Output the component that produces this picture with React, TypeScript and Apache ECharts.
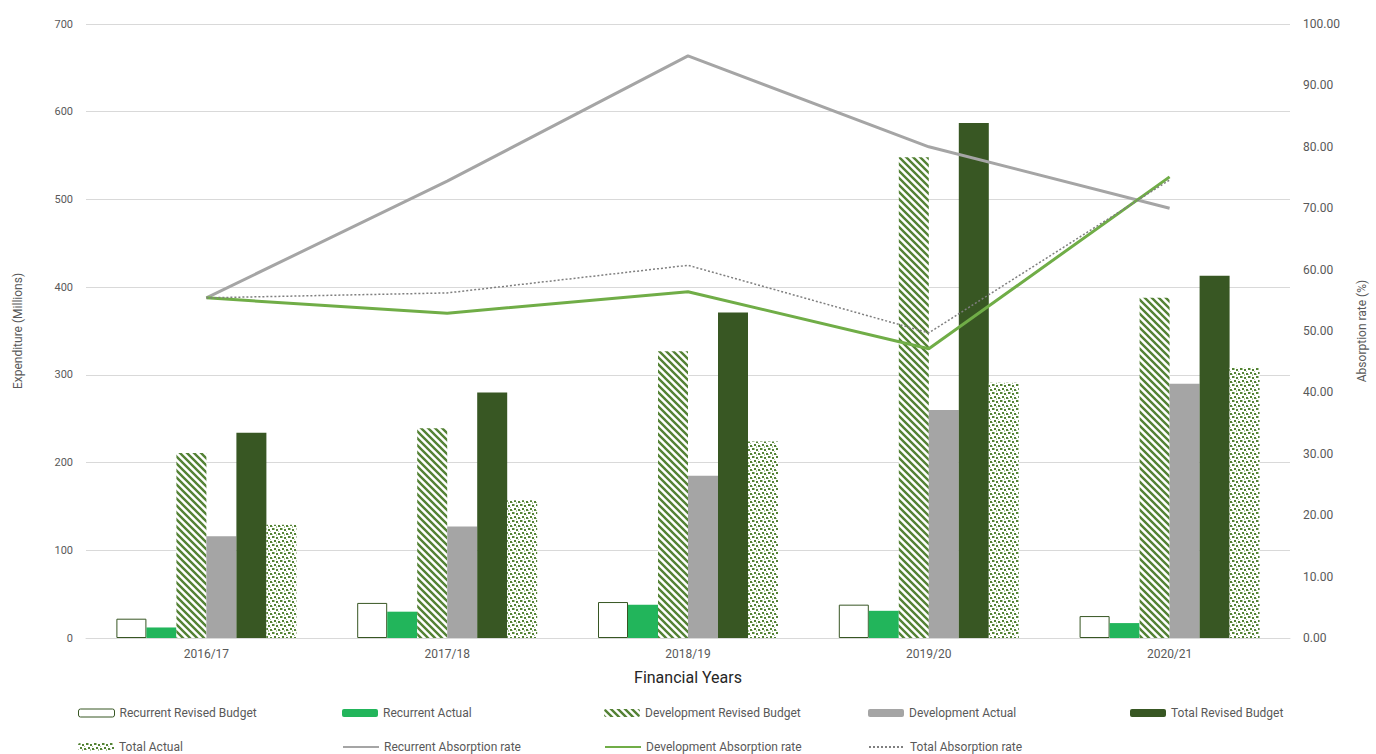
import React, { useEffect, useRef } from "react";
import * as echarts from "echarts";

const years = ["2016/17", "2017/18", "2018/19", "2019/20", "2020/21"];
const recurrentRevisedBudget = [22, 40, 41, 38, 25];
const recurrentActual = [12, 30, 38, 31, 17];
const developmentRevisedBudget = [211, 239, 327, 548, 388];
const developmentActual = [116, 127, 185, 260, 290];
const totalRevisedBudget = [234, 280, 371, 587, 413];
const totalActual = [129, 157, 224, 291, 308];
const recurrentAbsorption = [55.4, 74.4, 94.8, 80.0, 70.0];
const developmentAbsorption = [55.4, 52.9, 56.4, 47.1, 75.1];
const totalAbsorption = [55.4, 56.2, 60.7, 49.7, 74.6];
const leftTicks = { min: 0, max: 700, interval: 100 };
const rightTicks = { min: 0, max: 100, interval: 10 };

function stripeCanvas() {
  const c = document.createElement("canvas");
  c.width = 7;
  c.height = 7;
  const ctx = c.getContext("2d")!;
  ctx.fillStyle = "#ffffff";
  ctx.fillRect(0, 0, 7, 7);
  ctx.strokeStyle = "#548235";
  ctx.lineWidth = 2.4;
  ctx.beginPath();
  ctx.moveTo(-2, -2);
  ctx.lineTo(9, 9);
  ctx.moveTo(-9, -2);
  ctx.lineTo(2, 9);
  ctx.moveTo(5, -2);
  ctx.lineTo(16, 9);
  ctx.stroke();
  return c;
}

function dotCanvas() {
  const c = document.createElement("canvas");
  c.width = 8;
  c.height = 8;
  const ctx = c.getContext("2d")!;
  ctx.fillStyle = "#ffffff";
  ctx.fillRect(0, 0, 8, 8);
  ctx.fillStyle = "#a9c896";
  ctx.fillRect(2, 0, 1, 2);
  ctx.fillRect(6, 3, 1, 1);
  ctx.fillRect(0, 6, 1, 1);
  ctx.fillRect(4, 6, 1, 2);
  ctx.fillStyle = "#548235";
  ctx.fillRect(0, 0, 2, 2);
  ctx.fillRect(4, 1, 2, 2);
  ctx.fillRect(2, 4, 2, 2);
  ctx.fillRect(6, 5, 2, 2);
  return c;
}

export default function App() {
  const ref = useRef<HTMLDivElement>(null);
  useEffect(() => {
    if (!ref.current) return;
    const chart = echarts.init(ref.current, undefined, { renderer: "svg" });
    const stripe = { image: stripeCanvas(), repeat: "repeat" };
    const dots = { image: dotCanvas(), repeat: "repeat" };
    const textColor = "#595959";
    const font = "Roboto";
    const names = [
      "Recurrent Revised Budget",
      "Recurrent Actual",
      "Development Revised Budget",
      "Development Actual",
      "Total Revised Budget",
      "Total Actual",
      "Recurrent Absorption rate",
      "Development Absorption rate",
      "Total Absorption rate",
    ];
    const legendPos = [
      [78, 707],
      [342, 707],
      [604, 707],
      [868, 707],
      [1130, 707],
      [78, 741],
      [342, 741],
      [604, 741],
      [868, 741],
    ];
    const legends = names.map((n, i) => {
      const l: any = {
        data: [n],
        left: legendPos[i][0],
        top: legendPos[i][1],
        itemWidth: 36,
        itemHeight: 8,
        padding: 0,
        textStyle: { color: textColor, fontSize: 12, fontFamily: font },
      };
      if (i === 0) l.itemStyle = { borderWidth: 1 };
      if (i >= 6) l.itemStyle = { opacity: 0, color: "transparent", borderWidth: 0 };
      return l;
    });
    const barBase = { type: "bar", barWidth: 30, barGap: "0%", barCategoryGap: "26%" };
    chart.setOption({
      animation: false,
      textStyle: { fontFamily: font },
      legend: legends,
      grid: { left: 86, right: 78, top: 24, bottom: 116 },
      xAxis: {
        type: "category",
        data: years,
        axisTick: { show: false },
        axisLine: { lineStyle: { color: "#d9d9d9" } },
        axisLabel: { color: textColor, fontSize: 12, margin: 10 },
        name: "Financial Years",
        nameLocation: "middle",
        nameGap: 31,
        nameTextStyle: { color: "#262626", fontSize: 16 },
      },
      yAxis: [
        {
          type: "value",
          ...leftTicks,
          name: "Expenditure (Millions)",
          nameLocation: "middle",
          nameGap: 62,
          nameTextStyle: { color: textColor, fontSize: 12 },
          axisLabel: { color: textColor, fontSize: 11, margin: 13 },
          splitLine: { lineStyle: { color: "#d9d9d9" } },
          axisLine: { show: false },
          axisTick: { show: false },
        },
        {
          type: "value",
          ...rightTicks,
          name: "Absorption rate (%)",
          nameLocation: "middle",
          nameGap: 66,
          nameRotate: 90,
          nameTextStyle: { color: textColor, fontSize: 12 },
          axisLabel: {
            color: textColor,
            fontSize: 12,
            margin: 13,
            formatter: (v: number) => v.toFixed(2),
          },
          splitLine: { show: false },
          axisLine: { show: false },
          axisTick: { show: false },
        },
      ],
      series: [
        {
          ...barBase,
          name: names[0],
          data: recurrentRevisedBudget,
          itemStyle: { color: "#ffffff", borderColor: "#375623", borderWidth: 1 },
        },
        { ...barBase, name: names[1], data: recurrentActual, itemStyle: { color: "#22b55b" } },
        { ...barBase, name: names[2], data: developmentRevisedBudget, itemStyle: { color: stripe } },
        { ...barBase, name: names[3], data: developmentActual, itemStyle: { color: "#a5a5a5" } },
        { ...barBase, name: names[4], data: totalRevisedBudget, itemStyle: { color: "#385723" } },
        { ...barBase, name: names[5], data: totalActual, itemStyle: { color: dots } },
        {
          type: "line",
          name: names[6],
          yAxisIndex: 1,
          data: recurrentAbsorption,
          symbol: "none",
          lineStyle: { color: "#a5a5a5", width: 3 },
          itemStyle: { color: "#a5a5a5" },
        },
        {
          type: "line",
          name: names[7],
          yAxisIndex: 1,
          data: developmentAbsorption,
          symbol: "none",
          lineStyle: { color: "#70ad47", width: 3 },
          itemStyle: { color: "#70ad47" },
        },
        {
          type: "line",
          name: names[8],
          yAxisIndex: 1,
          data: totalAbsorption,
          symbol: "none",
          lineStyle: { color: "#7f7f7f", width: 1.5, type: [2, 2] },
          itemStyle: { color: "#7f7f7f" },
        },
      ],
    });
    return () => chart.dispose();
  }, []);
  return (
    <div
      ref={ref}
      style={{ position: "fixed", left: 0, top: 0, width: 1376, height: 754, background: "#fff" }}
    />
  );
}
